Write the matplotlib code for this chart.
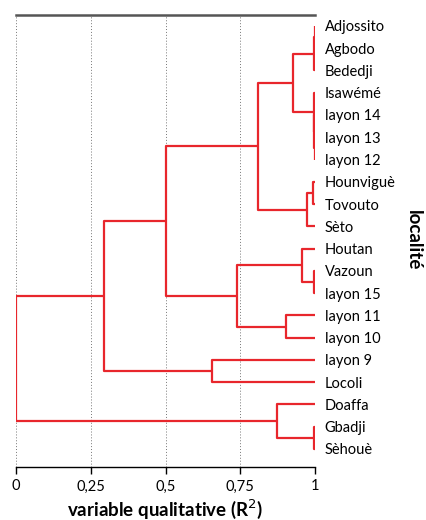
import matplotlib.pyplot as plt
import numpy as np

plt.rcParams['font.family'] = ['Lato', 'DejaVu Sans']

# leaf order, top to bottom
leaves = ["Adjossito", "Agbodo", "Bededji", "Isawémé", "layon 14", "layon 13",
          "layon 12", "Hounviguè", "Tovouto", "Sèto", "Houtan", "Vazoun",
          "layon 15", "layon 11", "layon 10", "layon 9", "Locoli", "Doaffa",
          "Gbadji", "Sèhouè"]

# merges: (left id, right id, R2); ids >= 20 are earlier merges
left = [0, 20, 5, 4, 3, 21, 7, 26, 25, 11, 10, 13, 30, 28, 15, 33, 18, 17, 35]
right = [1, 2, 6, 22, 23, 24, 8, 9, 27, 12, 29, 14, 31, 32, 16, 34, 19, 36, 37]
r2 = [0.999, 0.997, 0.999, 0.998, 0.996, 0.926, 0.994, 0.972, 0.81, 0.995,
      0.955, 0.903, 0.74, 0.50, 0.655, 0.295, 0.996, 0.872, 0.0]

xticks = [0, 0.25, 0.5, 0.75, 1]
xticklabels = ["0", "0,25", "0,5", "0,75", "1"]

red = '#e8262c'
n = len(leaves)

fig = plt.figure(figsize=(4.26, 5.20), dpi=100)
ax = fig.add_axes([16 / 426, 1 - 467 / 520, 299 / 426, 452 / 520])

# position of each node: (x, y)
pos = {i: (1.0, float(i)) for i in range(n)}
for k, (a, b, h) in enumerate(zip(left, right, r2)):
    xa, ya = pos[a]
    xb, yb = pos[b]
    ax.plot([xa, h, h, xb], [ya, ya, yb, yb], color=red, lw=1.6,
            solid_capstyle='butt', zorder=3)
    pos[n + k] = (h, (ya + yb) / 2)

# dotted guides
for t in xticks:
    ax.axvline(t, color='#777777', lw=0.7, ls=(0, (1, 2)), zorder=1)

ax.set_xlim(0, 1)
ax.set_ylim(n - 1 + 0.81, -0.49)
ax.set_xticks(xticks)
ax.set_xticklabels(xticklabels, fontsize=10.5)
ax.tick_params(axis='x', direction='out', length=5, width=1, pad=4)

ax.yaxis.tick_right()
ax.set_yticks(range(n))
ax.set_yticklabels(leaves, fontsize=10.5)
ax.tick_params(axis='y', length=0, pad=7)

ax.spines['left'].set_visible(False)
ax.spines['right'].set_visible(False)
ax.spines['top'].set_color('#555555')
ax.spines['top'].set_linewidth(1.8)
ax.spines['bottom'].set_linewidth(1.0)

ax.set_xlabel("variable qualitative (R$^2$)", fontsize=13.5, fontweight='bold',
              labelpad=3)
fig.text(413 / 426, 1 - 240 / 520, "localité", rotation=-90, fontsize=13.5,
         fontweight='bold', ha='center', va='center')

fig.savefig('out.png', dpi=100)
